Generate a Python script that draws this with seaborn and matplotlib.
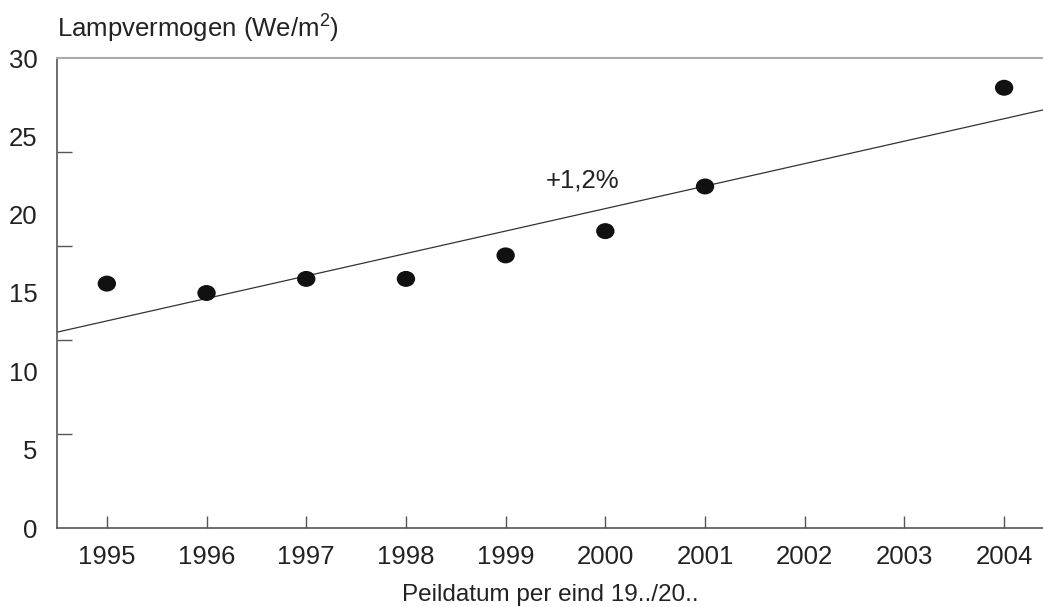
import matplotlib
matplotlib.use("Agg")
import matplotlib.pyplot as plt
from matplotlib.path import Path
import seaborn as sns
import pandas as pd

# data
years = [1995, 1996, 1997, 1998, 1999, 2000, 2001, 2004]
power = [15.6, 15.0, 15.9, 15.9, 17.4, 18.95, 21.8, 28.1]
trend_years = [1994.5, 2004.4]
trend_power = [12.5, 26.7]
year_ticks = list(range(1995, 2005))
y_labels = [0, 5, 10, 15, 20, 25, 30]
y_marks = [6, 12, 18, 24]

sns.set_style("white")
plt.rcParams["font.family"] = ["Liberation Sans", "DejaVu Sans"]
plt.rcParams["mathtext.fontset"] = "custom"
plt.rcParams["mathtext.rm"] = "Liberation Sans"

txt = "#222222"
fs = 18.5
fig = plt.figure(figsize=(10.43, 6.07), dpi=100)
ax = fig.add_axes([57 / 1043, 1 - 528 / 607, 1 - 57 / 1043, (528 - 58) / 607])

df = pd.DataFrame({"year": years, "power": power})
trend = pd.DataFrame({"year": trend_years, "power": trend_power})

sns.lineplot(data=trend, x="year", y="power", ax=ax, color="#333333", lw=0.9)

circ = Path.unit_circle()
ellipse = Path(circ.vertices * [1.0, 0.87], circ.codes)
sns.scatterplot(data=df, x="year", y="power", ax=ax, marker=ellipse, s=175,
                color="#111111", edgecolor="none", zorder=3)

ax.set_xlim(1994.5, 2004.39)
ax.set_ylim(0, 30)

ax.set_xticks(year_ticks)
ax.set_xticklabels([str(y) for y in year_ticks])
ax.tick_params(axis="x", bottom=True, direction="in", length=9, width=1, color="#555555",
               labelsize=fs, labelcolor=txt, pad=12)

ax.set_yticks(y_labels)
ax.set_yticklabels([str(v) for v in y_labels])
ax.set_yticks(y_marks, minor=True)
ax.tick_params(axis="y", which="major", left=True, length=0, labelsize=fs,
               labelcolor=txt, pad=14)
ax.tick_params(axis="y", which="minor", left=True, direction="in", length=11,
               width=1, color="#555555")

for side in ["left", "bottom"]:
    ax.spines[side].set_color("#555555")
    ax.spines[side].set_linewidth(1.2)
ax.spines["top"].set_color("#aaaaaa")
ax.spines["top"].set_linewidth(1.5)
ax.spines["right"].set_visible(False)

ax.set_xlabel("")
ax.set_ylabel("")
ax.text(1999.4, 22.2, "+1,2%", fontsize=fs, color=txt, ha="left", va="center")
fig.text(57 / 1043, 1 - 28 / 607, "Lampvermogen (We/m$^2$)", fontsize=fs,
         color=txt, ha="left", va="center")
fig.text(550 / 1043, 1 - 595 / 607, "Peildatum per eind 19../20..", fontsize=17.5,
         color=txt, ha="center", va="center")

fig.savefig("out.png", dpi=100)
